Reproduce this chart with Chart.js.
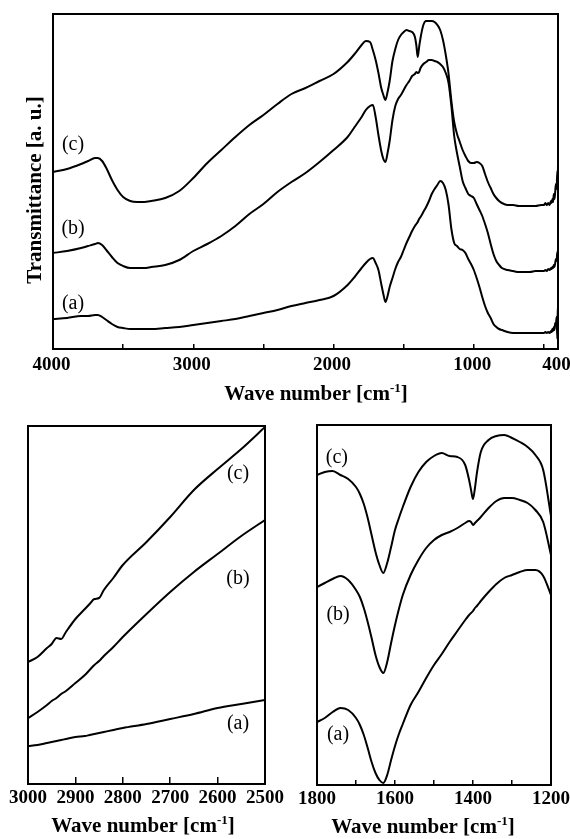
<!DOCTYPE html>
<html>
<head>
<meta charset="utf-8">
<script src="https://cdn.jsdelivr.net/npm/chart.js@4/dist/chart.umd.min.js"></script>
<style>
  html, body { margin: 0; padding: 0; background: #fff; }
  body { width: 570px; height: 839px; position: relative; overflow: hidden; }
  canvas { position: absolute; }
</style>
</head>
<body>
<canvas id="top" width="570" height="420" style="left:0;top:0;width:570px;height:420px"></canvas>
<canvas id="bl" width="285" height="419" style="left:0;top:420px;width:285px;height:419px"></canvas>
<canvas id="br" width="285" height="419" style="left:285px;top:420px;width:285px;height:419px"></canvas>
<script>
// ---------------- DATA ----------------
// Top panel: full FT-IR spectra, wave number [cm-1] vs transmittance (a.u.)
const topWn = [4000,3900,3800,3750,3700,3680,3650,3620,3580,3540,
  3500,3450,3400,3350,3300,3200,3100,3000,2900,2800,
  2700,2600,2500,2400,2300,2200,2100,2000,1900,1850,
  1800,1770,1740,1720,1700,1680,1660,1645,1630,1615,
  1600,1580,1560,1540,1520,1500,1480,1460,1440,1420,
  1410,1400,1390,1380,1360,1340,1320,1300,1280,1260,
  1240,1220,1200,1180,1160,1140,1120,1100,1080,1060,
  1040,1020,1000,980,960,940,920,900,880,860,
  840,820,800,760,720,680,640,600,560,520,
  500,490,480,470,460,450,445,440,435,430,425,420,415,410,405,402,400];
const topC = [177,180,185,188,191,191,188,181,169,159,
  152,148,147,147,148,151,158,171,186,199,
  212,224,234,245,255,261,268,275,287,295,
  304,308,307,299,289,276,261,254,249,257,
  268,288,300,309,314,317,319,318,317,312,
  304,292,302,311,324,328,328,328,327,324,
  319,309,294,275,248,227,215,207,199,193,
  188,186,186,187,186,183,175,167,161,155,
  151,148,146,144,144,143,143,143,143,144,
  144,146,144,146,144,148,146,150,147,155,150,157,165,160,178,165,185];
const topB = [96,98,101,103,105,106,104,99,92,86,
  83,81,81,81,82,84,89,98,105,113,
  123,135,145,157,167,176,187,199,212,222,
  232,239,243,244,232,214,198,190,187,196,
  208,229,243,250,254,259,264,268,273,275,
  277,276,277,281,285,287,289,289,288,287,
  285,282,276,266,243,213,196,182,168,161,
  155,153,151,145,139,133,125,116,105,95,
  88,84,81,79,78,77,77,77,78,78,
  78,79,78,80,79,81,80,82,81,84,82,86,90,88,97,92,100];
const topA = [30,31,33,33,34,34,32,29,25,22,
  21,20,20,20,20,21,22,24,26,28,
  30,33,36,39,43,46,49,53,64,72,
  81,86,90,91,86,79,65,55,47,53,
  62,71,80,87,92,99,106,112,118,123,
  125,127,130,132,137,142,148,155,160,164,
  168,166,159,144,120,106,103,100,99,96,
  90,85,79,71,62,52,43,36,31,25,
  22,20,19,17,16,16,16,16,16,16,
  16,17,16,17,16,18,17,20,18,22,19,26,24,32,10,36,42];
const topTicks = [4000,3500,3000,2500,2000,1500,1000,500,400];
const topTickLabels = [4000,3000,2000,1000,400];

// Bottom-left panel: 3000-2500 cm-1 region
const blWn = [3000,2980,2960,2950,2940,2930,2920,2900,2880,2870,2860,2850,2840,2820,2800,2750,2700,2650,2600,2550,2500];
const blC = [122,127,136,140,146,145,152,165,175,180,185,186,194,206,219,242,267,294,315,335,357];
const blB = [66,72,79,83,86,90,93,101,109,114,119,123,128,137,147,170,192,212,230,248,264];
const blA = [38,39,41,42,43,44,45,47,48,49,50,51,52,54,56,60,65,70,76,80,84];
const blTicks = [3000,2900,2800,2700,2600,2500];
const blTickLabels = [3000,2900,2800,2700,2600,2500];

// Bottom-right panel: 1800-1200 cm-1 region
const brWn = [1800,1780,1760,1740,1720,1700,1690,1680,1670,1660,1650,1640,1630,1620,1610,1600,1590,1580,1560,1540,1520,1500,1480,1460,1440,1420,1410,1405,1400,1395,1390,1380,1360,1340,1320,1300,1280,1260,1240,1220,1200];
const brC = [310,313,314,310,306,298,291,281,267,250,233,220,212,222,238,255,267,278,298,313,323,329,332,329,328,320,305,295,286,297,312,333,345,349,350,347,343,338,330,315,269];
const brB = [198,202,206,209,205,195,188,177,163,147,130,118,112,123,142,160,176,190,210,225,237,245,250,253,257,262,264,263,260,262,264,268,277,284,287,287,285,282,275,263,230];
const brA = [63,67,73,77,75,67,60,50,37,23,12,5,2,10,25,39,51,61,80,93,107,120,131,143,154,165,170,172,174,177,179,184,193,201,207,210,213,215,215,209,190];
const brTicks = [1800,1700,1600,1500,1400,1300,1200];
const brTickLabels = [1800,1600,1400,1200];

const seriesNames = ['(a)', '(b)', '(c)'];

// ---------------- RENDERING ----------------
const SERIF = '"Liberation Serif", "Times New Roman", Times, serif';

const panelDecor = {
  id: 'panelDecor',
  afterDraw(chart, args, o) {
    const ctx = chart.ctx, a = chart.chartArea, xs = chart.scales.x, ys = chart.scales.y;
    ctx.save();
    ctx.fillStyle = '#000';
    // curve labels
    ctx.font = '20px ' + SERIF;
    ctx.textAlign = 'center';
    ctx.textBaseline = 'middle';
    (o.labels || []).forEach(l => {
      ctx.fillText(l.text, xs.getPixelForValue(l.x), ys.getPixelForValue(l.y));
    });
    // x-axis title with superscript
    if (o.xTitle) {
      const main = 'Wave number [cm', sup = '-1', end = ']';
      const fMain = 'bold 21px ' + SERIF, fSup = 'bold 13px ' + SERIF;
      ctx.font = fMain; const w1 = ctx.measureText(main).width, w3 = ctx.measureText(end).width;
      ctx.font = fSup; const w2 = ctx.measureText(sup).width;
      let x0 = o.xTitle.cx - (w1 + w2 + w3) / 2;
      const yb = o.xTitle.baseline;
      ctx.textAlign = 'left'; ctx.textBaseline = 'alphabetic';
      ctx.font = fMain; ctx.fillText(main, x0, yb);
      ctx.font = fSup; ctx.fillText(sup, x0 + w1, yb - 8);
      ctx.font = fMain; ctx.fillText(end, x0 + w1 + w2, yb);
    }
    // y-axis title
    if (o.yTitle) {
      ctx.save();
      ctx.translate(o.yTitle.x, o.yTitle.cy);
      ctx.rotate(-Math.PI / 2);
      ctx.font = 'bold 21px ' + SERIF;
      ctx.textAlign = 'center'; ctx.textBaseline = 'alphabetic';
      ctx.fillText(o.yTitle.text, 0, 0);
      ctx.restore();
    }
    // frame
    ctx.strokeStyle = '#000';
    ctx.lineWidth = 2;
    ctx.strokeRect(a.left, a.top, a.right - a.left, a.bottom - a.top);
    ctx.restore();
  }
};

function makeSet(wn, vals, label) {
  return {
    label: label,
    data: wn.map((w, i) => ({ x: w, y: vals[i] })),
    borderColor: '#000',
    borderWidth: 2,
    pointRadius: 0,
    fill: false,
    cubicInterpolationMode: 'monotone'
  };
}

function makeChart(id, cfg) {
  const tickSet = cfg.ticks, labelSet = cfg.tickLabels;
  return new Chart(document.getElementById(id), {
    type: 'line',
    data: {
      datasets: [
        makeSet(cfg.wn, cfg.a, seriesNames[0]),
        makeSet(cfg.wn, cfg.b, seriesNames[1]),
        makeSet(cfg.wn, cfg.c, seriesNames[2])
      ]
    },
    options: {
      responsive: false,
      animation: false,
      devicePixelRatio: 1,
      layout: { padding: cfg.padding },
      plugins: {
        legend: { display: false },
        tooltip: { enabled: false },
        panelDecor: cfg.decor
      },
      scales: {
        x: {
          type: 'linear',
          reverse: true,
          min: cfg.xmin,
          max: cfg.xmax,
          border: { display: false },
          grid: {
            display: true,
            drawOnChartArea: false,
            drawTicks: true,
            tickLength: cfg.tickLen,
            color: '#000',
            lineWidth: 1.5
          },
          afterBuildTicks: s => { s.ticks = tickSet.map(v => ({ value: v })); },
          afterFit: s => { s.height = cfg.xHeight; s.paddingLeft = 0; s.paddingRight = 0; },
          ticks: {
            autoSkip: false,
            maxRotation: 0,
            minRotation: 0,
            padding: cfg.tickPad,
            labelOffset: cfg.labelOffset || 0,
            color: '#000',
            font: { family: SERIF, size: 19, weight: 'bold' },
            callback: v => labelSet.includes(v) ? String(v) : ''
          }
        },
        y: {
          type: 'linear',
          display: false,
          min: 0,
          max: cfg.ymax
        }
      }
    },
    plugins: [panelDecor]
  });
}

makeChart('top', {
  wn: topWn, a: topA, b: topB, c: topC,
  ticks: topTicks, tickLabels: topTickLabels,
  xmin: 400, xmax: 4000, ymax: 335,
  padding: { left: 53, right: 12, top: 14, bottom: 0 },
  xHeight: 71, tickLen: -5, tickPad: 10, labelOffset: -1.5,
  decor: {
    labels: [
      { text: '(c)', x: 3857, y: 204 },
      { text: '(b)', x: 3857, y: 120 },
      { text: '(a)', x: 3857, y: 45 }
    ],
    xTitle: { cx: 316, baseline: 400 },
    yTitle: { text: 'Transmittance [a. u.]', x: 41, cy: 190 }
  }
});

makeChart('bl', {
  wn: blWn, a: blA, b: blB, c: blC,
  ticks: blTicks, tickLabels: blTickLabels,
  xmin: 2500, xmax: 3000, ymax: 358,
  padding: { left: 28, right: 20, top: 6, bottom: 0 },
  xHeight: 55, tickLen: -7, tickPad: 10,
  decor: {
    labels: [
      { text: '(c)', x: 2557, y: 310 },
      { text: '(b)', x: 2557, y: 205 },
      { text: '(a)', x: 2557, y: 60 }
    ],
    xTitle: { cx: 143, baseline: 412 }
  }
});

makeChart('br', {
  wn: brWn, a: brA, b: brB, c: brC,
  ticks: brTicks, tickLabels: brTickLabels,
  xmin: 1200, xmax: 1800, ymax: 360,
  padding: { left: 32, right: 19, top: 5, bottom: 0 },
  xHeight: 54, tickLen: -5, tickPad: 8,
  decor: {
    labels: [
      { text: '(c)', x: 1749, y: 327 },
      { text: '(b)', x: 1746, y: 170 },
      { text: '(a)', x: 1746, y: 50 }
    ],
    xTitle: { cx: 138, baseline: 413 }
  }
});
</script>
</body>
</html>
